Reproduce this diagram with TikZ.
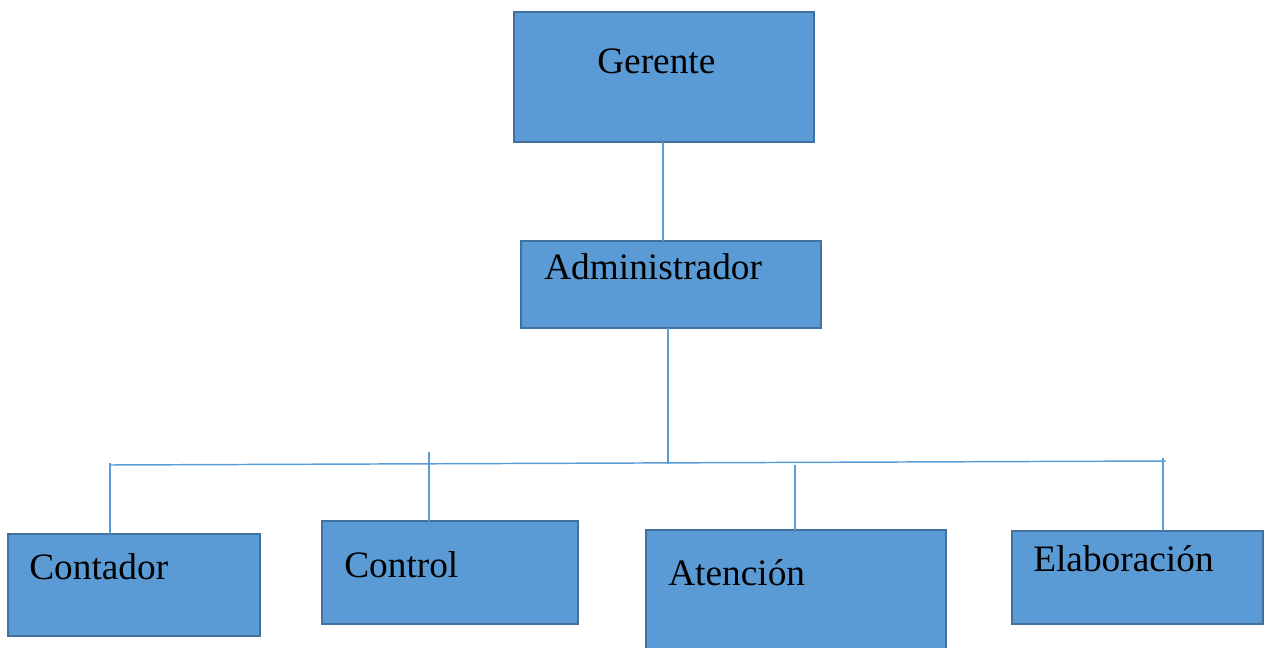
\documentclass[tikz,border=0pt]{standalone}
\usepackage{fontspec}
\setmainfont{Liberation Serif}
\usetikzlibrary{calc}
\definecolor{boxfill}{HTML}{5B9BD5}
\definecolor{boxedge}{HTML}{41719C}
\definecolor{linec}{HTML}{5B9BD5}
\begin{document}
\begin{tikzpicture}[x=0.75pt,y=-0.75pt,
  box/.style={draw=boxedge,fill=boxfill,line width=1.5pt,rectangle,inner sep=0pt,outer sep=0pt},
  lbl/.style={anchor=base west,inner sep=0pt,font=\fontsize{28}{34}\selectfont},
  conn/.style={draw=linec,line width=1.1pt}]
\useasboundingbox (0,0) rectangle (1270,648);
% boxes
\node[box,minimum width=300*0.75pt,minimum height=130*0.75pt] (g) at (664,77) {};
\node[box,minimum width=300*0.75pt,minimum height=87*0.75pt] (a) at (671,284.5) {};
\node[box,minimum width=252*0.75pt,minimum height=102*0.75pt] (c1) at (134,585) {};
\node[box,minimum width=256*0.75pt,minimum height=103*0.75pt] (c2) at (450,572.5) {};
\begin{scope}
\clip (0,0) rectangle (1270,648);
\node[box,minimum width=300*0.75pt,minimum height=130*0.75pt] (c3) at (796,595) {};
\end{scope}
\node[box,minimum width=251*0.75pt,minimum height=93*0.75pt] (c4) at (1137.5,577.5) {};
% labels
\node[lbl] (tg) at (597,74) {Gerente};
\node[lbl] (ta) at (544,280) {Administrador};
\node[lbl] (t1) at (29,579) {Contador};
\node[lbl] (t2) at (344,577) {Control};
\node[lbl] (t3) at (668,585) {Atención};
\node[lbl] (t4) at (1033,571) {Elaboración};
% connectors
\coordinate (gb) at (663,142);
\coordinate (ab) at (668,328);
\coordinate (aj) at (668,464);
\coordinate (busL) at (110,465);
\coordinate (busR) at (1166,461);
\coordinate (top1) at (110,463);
\coordinate (top2) at (429,452);
\coordinate (top3) at (795,465);
\coordinate (top4) at (1163,458);
\draw[conn] (gb) -- (gb |- a.north);
\draw[conn] (ab) -- (aj);
\draw[conn] (busL) -- (busR);
\draw[conn] (top1) -- (top1 |- c1.north);
\draw[conn] (top2) -- (top2 |- c2.north);
\draw[conn] (top3) -- (top3 |- c3.north);
\draw[conn] (top4) -- (top4 |- c4.north);
\end{tikzpicture}
\end{document}
